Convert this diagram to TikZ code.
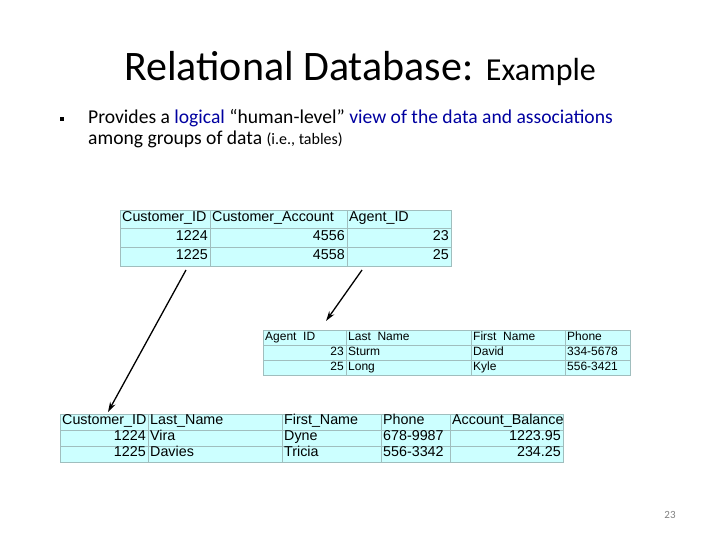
\documentclass[tikz,border=0pt]{standalone}
\usepackage{fontspec}
\setmainfont{Carlito}
\newfontfamily\tabfont{Liberation Sans}
\usetikzlibrary{arrows.meta}
\definecolor{cellfill}{RGB}{204,255,255}
\definecolor{cellline}{RGB}{160,190,190}
\definecolor{linkblue}{RGB}{0,0,160}
\tikzset{
  cellbox/.style={draw=cellline, line width=0.8pt, fill=cellfill, inner sep=0pt, outer sep=0pt},
  celltext/.style={font=\tabfont\fontsize{14.3}{14}\selectfont, inner sep=2pt, text height=1.5ex, text depth=0.3ex},
  link/.style={draw=black, line width=1.3pt, -{Stealth[length=10pt,width=6pt]}}
}
% one cell: name, x1, x2, y1, y2, align (l/r), text
\newcommand{\tabcell}[7]{%
  \path[cellbox] (#2,#4) rectangle (#3,#5);
  \if#6r
    \node[celltext, anchor=east] (#1) at (#3,{(#4+#5)/2}) {#7};
  \else
    \node[celltext, anchor=west] (#1) at (#2,{(#4+#5)/2}) {#7};
  \fi}
\begin{document}
\begin{tikzpicture}[x=1pt,y=-1pt]
  \useasboundingbox (0,0) rectangle (720,540);
  % title and text
  \node (title) at (360,68) {\fontsize{42}{42}\selectfont Relational Database: \fontsize{32}{32}\selectfont Example};
  \node[fill=black, minimum size=4pt, inner sep=0pt] (bullet) at (62,119) {};
  \node[anchor=west, inner sep=0pt, font=\fontsize{19.6}{19.6}\selectfont] (line1) at (88,118)
    {Provides a \textcolor{linkblue}{logical} “human-level” \textcolor{linkblue}{view of the data and associations}};
  \node[anchor=west, inner sep=0pt, font=\fontsize{19.6}{19.6}\selectfont] (line2) at (88,139)
    {among groups of data {\fontsize{16}{16}\selectfont (i.e., tables)}};
  \node[font=\fontsize{11}{11}\selectfont, text=gray] (page) at (670,515) {23};
  % customer table
  \foreach \c/\xa/\xb/\al/\txt in {1/120/210/l/Customer\_ID, 2/210/347/l/Customer\_Account, 3/347/451/l/Agent\_ID}
    {\tabcell{ca-1-\c}{\xa}{\xb}{210}{228}{\al}{\txt}}
  \foreach \c/\xa/\xb/\txt in {1/120/210/1224, 2/210/347/4556, 3/347/451/23}
    {\tabcell{ca-2-\c}{\xa}{\xb}{228}{247}{r}{\txt}}
  \foreach \c/\xa/\xb/\txt in {1/120/210/1225, 2/210/347/4558, 3/347/451/25}
    {\tabcell{ca-3-\c}{\xa}{\xb}{247}{266}{r}{\txt}}
  % agent table
  \begin{scope}[celltext/.append style={font=\tabfont\fontsize{12}{12}\selectfont}]
  \foreach \c/\xa/\xb/\txt in {1/263/346/Agent\ \ ID, 2/346/471/Last\ \ Name, 3/471/565/First\ \ Name, 4/565/630/Phone}
    {\tabcell{ag-1-\c}{\xa}{\xb}{330}{345}{l}{\txt}}
  \foreach \c/\xa/\xb/\al/\txt in {1/263/346/r/23, 2/346/471/l/Sturm, 3/471/565/l/David, 4/565/630/l/334-5678}
    {\tabcell{ag-2-\c}{\xa}{\xb}{345}{360}{\al}{\txt}}
  \foreach \c/\xa/\xb/\al/\txt in {1/263/346/r/25, 2/346/471/l/Long, 3/471/565/l/Kyle, 4/565/630/l/556-3421}
    {\tabcell{ag-3-\c}{\xa}{\xb}{360}{375}{\al}{\txt}}
  \end{scope}
  % customer detail table
  \foreach \c/\xa/\xb/\txt in {1/60/148/Customer\_ID, 2/148/282/Last\_Name, 3/282/381/First\_Name, 4/381/450/Phone, 5/450/563/Account\_Balance}
    {\tabcell{cu-1-\c}{\xa}{\xb}{414}{430}{l}{\txt}}
  \foreach \c/\xa/\xb/\al/\txt in {1/60/148/r/1224, 2/148/282/l/Vira, 3/282/381/l/Dyne, 4/381/450/l/678-9987, 5/450/563/r/1223.95}
    {\tabcell{cu-2-\c}{\xa}{\xb}{430}{446}{\al}{\txt}}
  \foreach \c/\xa/\xb/\al/\txt in {1/60/148/r/1225, 2/148/282/l/Davies, 3/282/381/l/Tricia, 4/381/450/l/556-3342, 5/450/563/r/234.25}
    {\tabcell{cu-3-\c}{\xa}{\xb}{446}{462}{\al}{\txt}}
  % links between tables
  \coordinate (fromcust) at (186,270);
  \coordinate (tocust) at (108,412);
  \coordinate (fromagent) at (362,270);
  \coordinate (toagent) at (326,321);
  \draw[link] (fromcust) -- (tocust);
  \draw[link] (fromagent) -- (toagent);
\end{tikzpicture}
\end{document}
